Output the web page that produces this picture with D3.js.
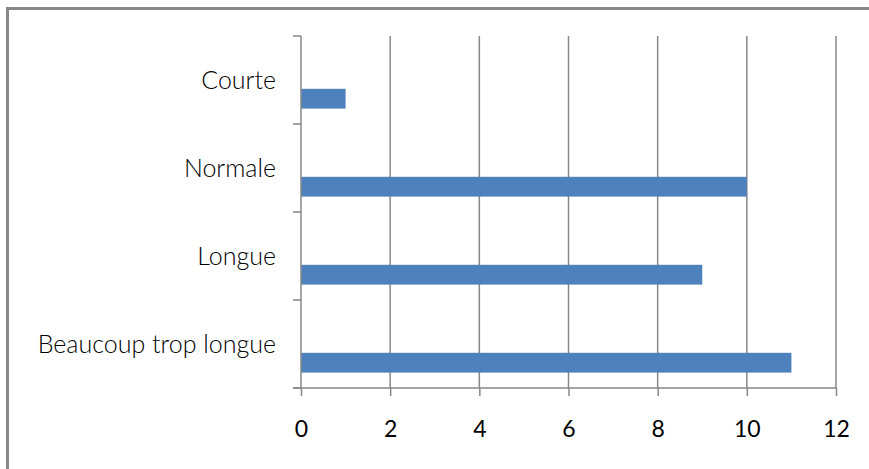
<!DOCTYPE html>
<html>
<head>
<meta charset="utf-8">
<script src="https://cdn.jsdelivr.net/npm/d3@7"></script>
<style>
  html, body { margin: 0; padding: 0; background: #fff; }
  svg { display: block; }
  text { font-family: Lato, "Open Sans", sans-serif; fill: #000; }
</style>
</head>
<body>
<svg id="chart" width="869" height="469"></svg>
<script>
// Responses per category (top to bottom)
const categories = ["Courte", "Normale", "Longue", "Beaucoup trop longue"];
const values = [1, 10, 9, 11];
const xTicks = [0, 2, 4, 6, 8, 10, 12];

const width = 869, height = 469;
const plot = { left: 301, right: 836, top: 36, bottom: 388 };
const gray = "#878787";
const barColor = "#4F81BD";

const svg = d3.select("#chart");

// Outer chart frame (left and top edges visible)
svg.append("path")
  .attr("d", `M7.5,${height} L7.5,8.5 L${width},8.5`)
  .attr("fill", "none")
  .attr("stroke", gray)
  .attr("stroke-width", 3);

const x = d3.scaleLinear()
  .domain([xTicks[0], xTicks[xTicks.length - 1]])
  .range([plot.left, plot.right]);

const y = d3.scaleBand()
  .domain(categories)
  .range([plot.top, plot.bottom])
  .padding(0);

// Vertical gridlines
svg.append("g")
  .selectAll("line")
  .data(xTicks.filter(t => t > 0))
  .join("line")
  .attr("x1", d => x(d)).attr("x2", d => x(d))
  .attr("y1", plot.top).attr("y2", plot.bottom)
  .attr("stroke", gray)
  .attr("stroke-width", 1.5);

// Bars sit in the lower part of each category band
const bw = y.bandwidth();
svg.append("g")
  .selectAll("rect")
  .data(categories.map((c, i) => ({ c, v: values[i] })))
  .join("rect")
  .attr("x", x(0))
  .attr("y", d => y(d.c) + bw * 0.6)
  .attr("width", d => x(d.v) - x(0))
  .attr("height", bw * 0.225)
  .attr("fill", barColor);

// Bottom value axis
const xAxis = d3.axisBottom(x)
  .tickValues(xTicks)
  .tickSize(8)
  .tickSizeOuter(0)
  .tickPadding(25)
  .tickFormat(d3.format("d"));

const gx = svg.append("g")
  .attr("transform", `translate(0,${plot.bottom})`)
  .call(xAxis);
gx.select(".domain")
  .attr("d", `M${plot.left - 8},0H${plot.right}`)
  .attr("stroke", gray).attr("stroke-width", 1.5);
gx.selectAll(".tick line").attr("stroke", gray).attr("stroke-width", 1.5);
gx.selectAll(".tick text")
  .attr("font-size", 23)
  .attr("font-family", "Lato, 'Open Sans', sans-serif")
  .attr("fill", "#000");

// Left category axis with ticks on band boundaries
svg.append("line")
  .attr("x1", x(0)).attr("x2", x(0))
  .attr("y1", plot.top).attr("y2", plot.bottom)
  .attr("stroke", gray).attr("stroke-width", 1.5);

const bounds = categories.map(c => y(c)).concat([plot.bottom]);
svg.append("g")
  .selectAll("line")
  .data(bounds)
  .join("line")
  .attr("x1", x(0) - 8).attr("x2", x(0))
  .attr("y1", d => d).attr("y2", d => d)
  .attr("stroke", gray).attr("stroke-width", 1.5);

// Category labels, centred in each band
svg.append("g")
  .selectAll("text")
  .data(categories)
  .join("text")
  .attr("x", 276)
  .attr("y", d => y(d) + bw / 2)
  .attr("dy", "0.35em")
  .attr("text-anchor", "end")
  .attr("font-size", 25)
  .attr("font-weight", 300)
  .text(d => d);
</script>
</body>
</html>
